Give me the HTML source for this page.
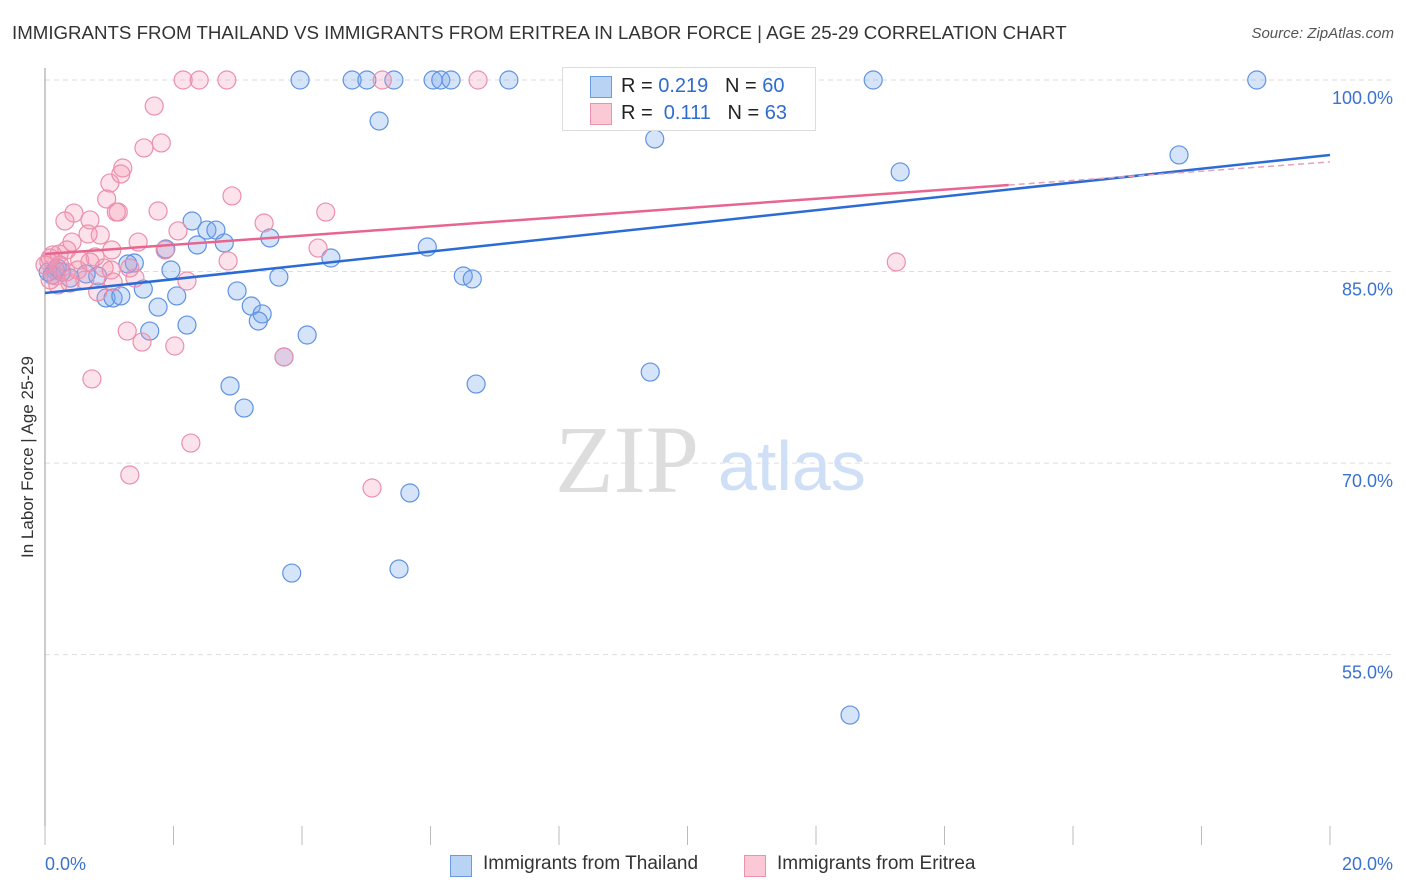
<!DOCTYPE html>
<html><head><meta charset="utf-8">
<style>
body{margin:0;background:#fff;font-family:"Liberation Sans",sans-serif;}
#wrap{position:relative;width:1406px;height:892px;overflow:hidden;}
.t{position:absolute;white-space:nowrap;}
</style></head>
<body>
<div id="wrap">
<div class="t" style="left:12px;top:22px;font-size:18.7px;color:#333;">IMMIGRANTS FROM THAILAND VS IMMIGRANTS FROM ERITREA IN LABOR FORCE | AGE 25-29 CORRELATION CHART</div>
<div class="t" style="right:12px;top:25px;font-size:15px;color:#555;font-style:italic;">Source: ZipAtlas.com</div>
<div class="t" style="left:28px;top:457px;font-size:17px;color:#333;transform:translate(-50%,-50%) rotate(-90deg);">In Labor Force | Age 25-29</div>
<svg id="svg" width="1406" height="892" style="position:absolute;left:0;top:0"></svg>
<div style="position:absolute;left:562px;top:67px;width:252px;height:62px;border:1px solid #ddd;background:rgba(255,255,255,0.9);font-size:20px;">
 <div style="position:absolute;left:27px;top:8px;width:20px;height:20px;background:#b9d3f5;border:1px solid #6a9ae0;"></div>
 <div class="t" style="left:58px;top:7px;color:#222;">R = <span style="color:#2f6bd0">0.219</span>&nbsp;&nbsp;&nbsp;N = <span style="color:#2f6bd0">60</span></div>
 <div style="position:absolute;left:27px;top:35px;width:20px;height:20px;background:#fbc8d6;border:1px solid #ec92ad;"></div>
 <div class="t" style="left:58px;top:34px;color:#222;">R = &nbsp;<span style="color:#2f6bd0">0.111</span>&nbsp;&nbsp;&nbsp;N = <span style="color:#2f6bd0">63</span></div>
</div>
<div style="position:absolute;left:450px;top:853px;font-size:19px;color:#333;">
 <span style="position:absolute;left:0;top:2px;width:20px;height:20px;background:#b9d3f5;border:1px solid #6a9ae0;"></span>
 <span class="t" style="left:33px;top:0;">Immigrants from Thailand</span>
 <span style="position:absolute;left:294px;top:2px;width:20px;height:20px;background:#fbc8d6;border:1px solid #ec92ad;"></span>
 <span class="t" style="left:327px;top:0;">Immigrants from Eritrea</span>
</div>
</div>
<script>
const xTicks=[0,2,4,6,8,10,12,14,16,18,20];
const yTicks=[100,85,70,55];
const yTickLabels=["100.0%","85.0%","70.0%","55.0%"];
const xEndLabels=["0.0%","20.0%"];
const thaiX=[3.97,4.78,5.01,5.43,6.04,6.16,6.32,7.22,11.32,12.89,18.86,5.20,9.49,17.65,13.31,2.29,2.52,2.66,2.37,2.79,3.50,1.88,5.95,4.45,1.39,1.29,1.96,6.51,6.65,3.64,0.16,0.26,0.39,0.82,0.11,1.53,2.99,2.05,0.95,1.06,1.18,1.76,3.21,3.38,3.32,2.21,1.63,4.08,3.72,9.42,6.71,2.88,3.10,5.68,5.51,3.84,12.53,0.64,0.05,0.19];
const thaiY=[100,100,100,100,100,100,100,100,100,100,100,96.79,95.38,94.13,92.80,88.96,88.25,88.25,87.08,87.24,87.63,86.77,86.92,86.06,85.67,85.59,85.12,84.65,84.42,84.57,85.12,84.96,84.49,84.65,84.73,83.63,83.48,83.09,82.93,82.93,83.09,82.22,82.30,81.68,81.13,80.81,80.34,80.03,78.31,77.13,76.19,76.04,74.31,67.66,61.71,61.39,50.27,84.81,84.96,85.28];
const eriX=[2.15,2.40,2.83,5.25,6.74,1.70,1.81,1.54,2.91,1.01,1.21,1.18,0.96,1.11,1.14,1.76,4.37,0.45,0.31,0.70,3.41,2.07,0.86,0.67,0.42,1.45,1.87,4.25,1.04,2.85,0.34,0.22,0.12,0.54,0.78,0.92,0.06,0.23,1.32,0.62,0.39,0.20,1.06,2.21,0.08,0.82,0.33,1.40,13.25,1.28,1.51,2.02,3.72,0.73,2.27,1.32,5.09,0.08,0.51,1.03,0.17,0.00,0.70];
const eriY=[100,100,100,100,100,97.96,95.07,94.68,90.92,91.93,93.11,92.64,90.68,89.66,89.66,89.74,89.66,89.58,88.96,89.04,88.80,88.18,87.86,87.94,87.31,87.31,86.69,86.84,86.69,85.83,86.69,86.37,86.30,85.90,86.14,85.28,85.75,85.51,85.28,84.34,84.10,83.95,84.18,84.26,84.34,83.40,84.96,84.49,85.75,80.34,79.48,79.17,78.31,76.59,71.57,69.07,68.05,86.06,85.12,85.12,84.65,85.51,85.75];
const thaiTrend=[83.32,94.13];
const eriTrend=[86.37,93.58];
const eriSolidEnd=15.0;

const X=v=>45+v/20*1285;
const Y=v=>80+(100-v)*12.77;
const svg=document.getElementById('svg');
const NS='http://www.w3.org/2000/svg';
function mk(tag,attrs){const e=document.createElementNS(NS,tag);for(const k in attrs)e.setAttribute(k,attrs[k]);svg.appendChild(e);return e;}

yTicks.forEach((t,i)=>{
  const g=mk('line',{x1:45,x2:1394,y1:Y(t),y2:Y(t),stroke:'#ddd','stroke-dasharray':'5,4'});
  
  
  const tx=mk('text',{x:1393,y:Y(t)+24,'text-anchor':'end','font-size':18,fill:'#3a72d0','font-family':'Liberation Sans, sans-serif'});
  tx.textContent=yTickLabels[i];
  
  
});
const ax=mk('line',{x1:45,x2:45,y1:68,y2:845,stroke:'#999'});


xTicks.forEach(t=>{
  const l=mk('line',{x1:X(t),x2:X(t),y1:826,y2:845,stroke:'#bbb'});
  
  
});
const xl0=mk('text',{x:45,y:870,'font-size':18,fill:'#3a72d0','font-family':'Liberation Sans, sans-serif'});
xl0.textContent=xEndLabels[0];


const xl1=mk('text',{x:1393,y:870,'text-anchor':'end','font-size':18,fill:'#3a72d0','font-family':'Liberation Sans, sans-serif'});
xl1.textContent=xEndLabels[1];



const w1=mk('text',{x:555,y:492,'font-size':96,fill:'#ddd','font-family':'Liberation Serif, serif'});
w1.textContent='ZIP';


const w2=mk('text',{x:718,y:490,'font-size':70,fill:'#cfdff5','font-family':'Liberation Sans, sans-serif'});
w2.textContent='atlas';



thaiX.forEach((x,i)=>{
  const c=mk('circle',{cx:X(x),cy:Y(thaiY[i]),r:9,fill:'rgba(120,165,235,0.3)',stroke:'#5e93e3','stroke-width':1.2});
  
  
});
eriX.forEach((x,i)=>{
  const c=mk('circle',{cx:X(x),cy:Y(eriY[i]),r:9,fill:'rgba(245,150,180,0.28)',stroke:'#ec8fac','stroke-width':1.2});
  
  
});
const tl=mk('line',{x1:X(0),y1:Y(thaiTrend[0]),x2:X(20),y2:Y(thaiTrend[1]),stroke:'#2b6bd6','stroke-width':2.5});


const eMid=eriTrend[0]+(eriTrend[1]-eriTrend[0])*eriSolidEnd/20;
const el=mk('line',{x1:X(0),y1:Y(eriTrend[0]),x2:X(eriSolidEnd),y2:Y(eMid),stroke:'#e8658f','stroke-width':2.5});


const ed=mk('line',{x1:X(eriSolidEnd),y1:Y(eMid),x2:X(20),y2:Y(eriTrend[1]),stroke:'#e8a0b8','stroke-width':1.5,'stroke-dasharray':'6,4'});


</script>
</body></html>
